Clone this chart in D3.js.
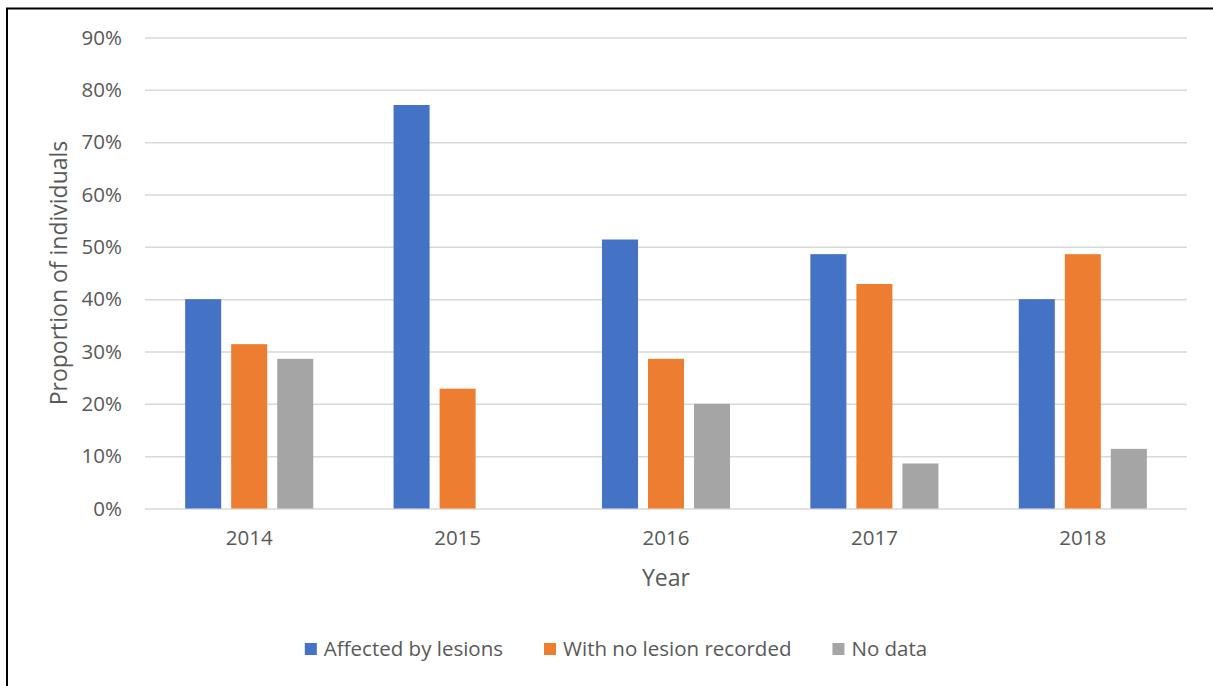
<!DOCTYPE html>
<html>
<head>
<meta charset="utf-8">
<script src="https://cdn.jsdelivr.net/npm/d3@7"></script>
<style>
  body { margin: 0; background: #fff; }
  text { font-family: "Open Sans", sans-serif; fill: #595959; }
</style>
</head>
<body>
<svg id="chart"></svg>
<script>
const years = ["2014", "2015", "2016", "2017", "2018"]
const seriesNames = ["Affected by lesions", "With no lesion recorded", "No data"]
const affected = [40.0, 77.1, 51.4, 48.6, 40.0]
const noLesion = [31.4, 22.9, 28.6, 42.9, 48.6]
const noData = [28.6, 0, 20.0, 8.6, 11.4]
const yTicks = [0, 10, 20, 30, 40, 50, 60, 70, 80, 90]
const colors = ["#4472C4", "#ED7D31", "#A5A5A5"]

const width = 1213
const height = 686
const plotL = 145, plotR = 1187, plotT = 37.5, plotB = 508.5

const svg = d3.select("#chart").attr("width", width).attr("height", height)

// border of the chart area (right and bottom edges fall outside the picture)
svg.append("rect")
    .attr("x", 7).attr("y", 8.5)
    .attr("width", 1300).attr("height", 800)
    .attr("fill", "none")
    .attr("stroke", "#000")
    .attr("stroke-width", 2)

const series = [affected, noLesion, noData]
const data = years.map((yr, i) => ({ year: yr, values: series.map((s, k) => ({ key: seriesNames[k], value: s[i], k: k })) }))

const x0 = d3.scaleBand().domain(years).range([plotL, plotR])
const x1 = d3.scaleBand().domain(seriesNames).range([0, x0.bandwidth()]).paddingInner(10 / 46).paddingOuter(0.873)
const y = d3.scaleLinear().domain([0, 90]).range([plotB, plotT])

// y axis + gridlines
const gy = svg.append("g")
    .attr("transform", `translate(${plotL},0)`)
    .call(d3.axisLeft(y).tickValues(yTicks).tickFormat(d => d + "%").tickSize(-(plotR - plotL)).tickPadding(23))
gy.select(".domain").remove()
gy.selectAll("line").attr("stroke", "#d9d9d9").attr("stroke-width", 1.5)
gy.selectAll("text").style("font-size", "20.5px").attr("fill", "#595959")

// bars
svg.append("g").selectAll("g")
    .data(data)
    .join("g")
    .attr("transform", d => `translate(${x0(d.year)},0)`)
    .selectAll("rect")
    .data(d => d.values)
    .join("rect")
    .attr("x", d => x1(d.key))
    .attr("width", x1.bandwidth())
    .attr("y", d => y(d.value))
    .attr("height", d => y(0) - y(d.value))
    .attr("fill", d => colors[d.k])

// x axis
const gx = svg.append("g")
    .attr("transform", `translate(0,${plotB})`)
    .call(d3.axisBottom(x0).tickSize(0).tickPadding(22))
gx.select(".domain").remove()
gx.selectAll("text").style("font-size", "20.5px").attr("fill", "#595959")

// axis titles
svg.append("text")
    .attr("x", (plotL + plotR) / 2)
    .attr("y", 586)
    .attr("text-anchor", "middle")
    .style("font-size", "23px")
    .text("Year")

svg.append("text")
    .attr("transform", `translate(67,${(plotT + plotB) / 2}) rotate(-90)`)
    .attr("text-anchor", "middle")
    .style("font-size", "23px")
    .text("Proportion of individuals")

// legend
const lg = svg.append("g")
const items = lg.selectAll("g")
    .data(seriesNames)
    .join("g")
items.append("rect")
    .attr("width", 12).attr("height", 12)
    .attr("y", -6)
    .attr("fill", (d, i) => colors[i])
items.append("text")
    .attr("x", 19)
    .attr("dy", "0.35em")
    .style("font-size", "20.5px")
    .text(d => d)

let pos = 0
items.each(function () {
    d3.select(this).attr("transform", `translate(${pos},0)`)
    pos += 19 + d3.select(this).select("text").node().getComputedTextLength() + 41
})
pos -= 41
lg.attr("transform", `translate(${616 - pos / 2},649)`)
</script>
</body>
</html>
